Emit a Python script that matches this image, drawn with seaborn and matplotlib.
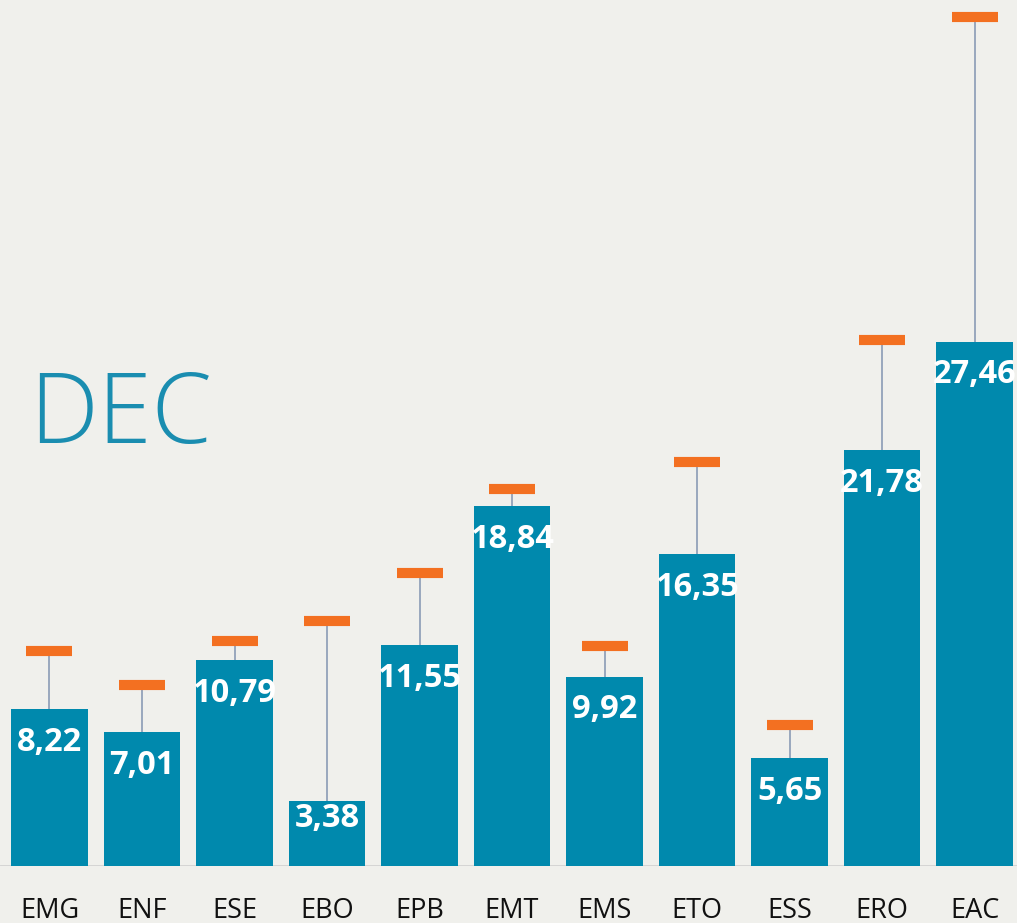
import numpy as np
import pandas as pd
import seaborn as sns
import matplotlib.pyplot as plt

# Chart data
categories = ["EMG", "ENF", "ESE", "EBO", "EPB", "EMT", "EMS", "ETO", "ESS", "ERO", "EAC"]
values = [8.22, 7.01, 10.79, 3.38, 11.55, 18.84, 9.92, 16.35, 5.65, 21.78, 27.46]
targets = [11.26, 9.48, 11.78, 12.83, 15.34, 19.74, 11.52, 21.15, 7.38, 27.54, 44.45]
value_labels = [f"{v:.2f}".replace(".", ",") for v in values]

df = pd.DataFrame({"cat": categories, "value": values, "target": targets})

bg = "#f0f0ec"
bar_color = "#0089ad"
orange = "#f37021"
stem_color = "#8a9bb5"

sns.set_theme(style="white")
plt.rcParams["font.family"] = ["Open Sans", "DejaVu Sans"]

fig = plt.figure(figsize=(10.17, 9.23), dpi=100, facecolor=bg)
ax = fig.add_axes([0, 57 / 923, 1, 859.5 / 923])
ax.set_facecolor(bg)

sns.barplot(data=df, x="cat", y="value", color=bar_color, width=0.83,
            saturation=1, linewidth=0, ax=ax, zorder=2)

x = np.arange(len(categories))
# thin stems from bar top to marker
ax.vlines(x, df["value"], df["target"], color=stem_color, lw=1.2, zorder=3)
# orange target markers
ax.plot(x, df["target"], ls="none", marker="_", ms=32.5, mew=7.3,
        color=orange, zorder=4)

ax.set_xlim(-0.535, 10.459)
ax.set_ylim(0, 45)

# value labels inside bars (pulled up when the bar is short)
pt_per_unit = 859.5 / 45 / 1.389
for xi, v, lab in zip(x, values, value_labels):
    off = min(24, v * pt_per_unit - 34)
    ax.annotate(lab, (xi, v), xytext=(0, -off), textcoords="offset points",
                ha="center", va="center", color="white", fontsize=23.5,
                fontweight="bold", zorder=5)

ax.axhline(0, color="#d2d2d2", lw=2, zorder=1)

ax.set_xlabel("")
ax.set_ylabel("")
ax.set_yticks([])
ax.tick_params(axis="x", length=0, pad=22, labelsize=19.5, labelcolor="#111111")
for s in ax.spines.values():
    s.set_visible(False)

fig.text(29 / 1017, 1 - 443 / 923, "DEC", fontsize=70, fontweight="light",
         color="#1a8db0", ha="left", va="baseline")

fig.savefig("out.png", dpi=100, facecolor=bg)
